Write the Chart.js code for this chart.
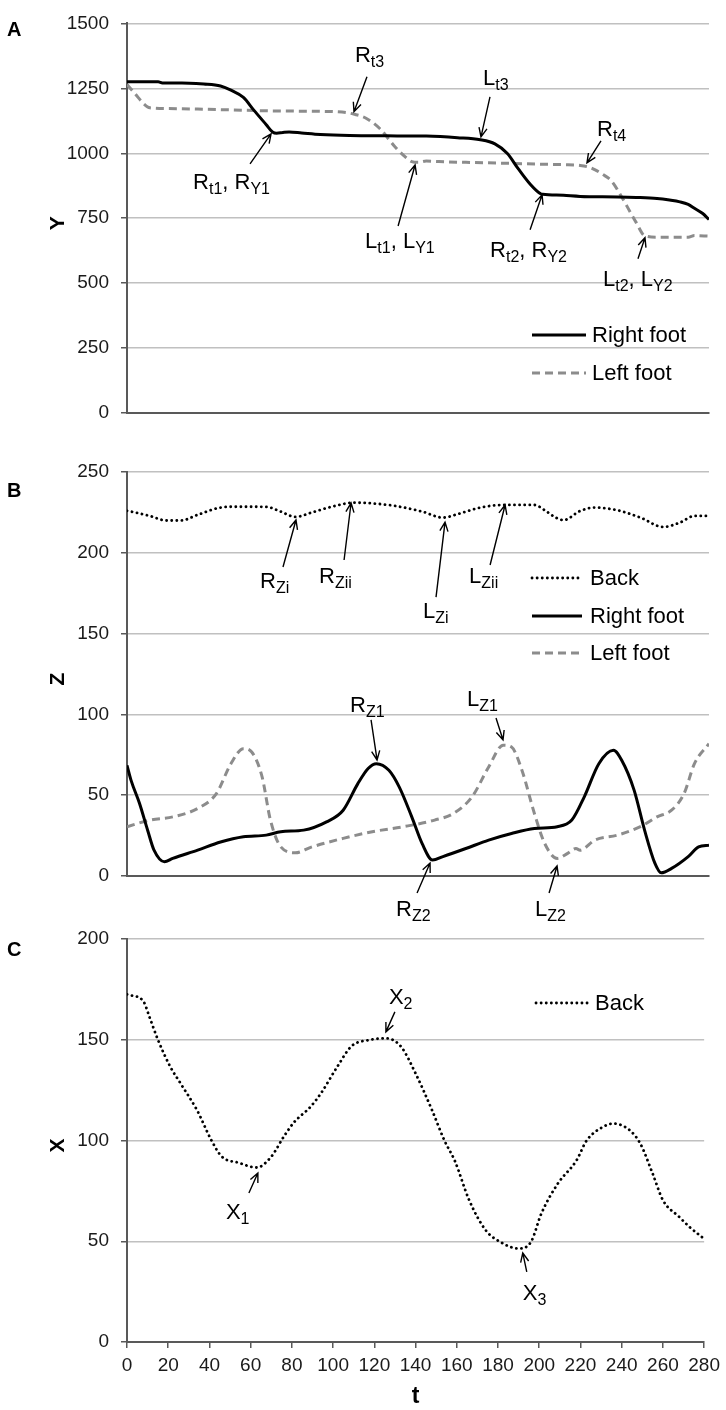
<!DOCTYPE html>
<html>
<head>
<meta charset="utf-8">
<script src="https://cdn.jsdelivr.net/npm/chart.js@4.4.1/dist/chart.umd.min.js"></script>
<style>
  body { margin: 0; background: #fff; width: 726px; height: 1410px; position: relative; overflow: hidden; }
  canvas { position: absolute; left: 0; }
</style>
</head>
<body>
<canvas id="chartA" width="726" height="440" style="top:0"></canvas>
<canvas id="chartB" width="726" height="490" style="top:440px"></canvas>
<canvas id="chartC" width="726" height="510" style="top:900px"></canvas>
<script>
// ---- panel A : Y position of the feet ----
const tA_right = [0, 15, 17, 30, 37, 45, 50, 56, 61, 67, 70, 72, 75, 78, 84, 93, 107, 125, 144, 159, 170, 177, 183, 188, 194, 199, 200, 210, 218, 236, 245, 255, 261, 266, 270, 273, 277, 280];
const yA_right = [1275, 1275, 1271, 1270, 1267, 1259, 1243, 1215, 1166, 1110, 1082, 1077, 1080, 1082, 1078, 1072, 1068, 1067, 1066, 1060, 1052, 1036, 999, 943, 881, 844, 842, 838, 834, 832, 830, 826, 820, 813, 803, 788, 768, 745];
const tA_left = [0, 4, 8, 11, 20, 34, 50, 70, 85, 100, 106, 109, 115, 122, 129, 134, 137, 140, 144, 150, 163, 180, 199, 210, 218, 222, 225, 229, 233, 238, 242, 245, 249, 255, 265, 270, 273, 280];
const yA_left = [1265, 1228, 1191, 1175, 1172, 1170, 1167, 1163, 1162, 1160, 1156, 1151, 1135, 1092, 1024, 985, 968, 965, 970, 968, 965, 962, 958, 956, 953, 947, 937, 918, 894, 832, 775, 733, 683, 677, 677, 677, 683, 681];

// ---- panel B : Z position ----
const tB_back = [0, 2, 11, 19, 26, 34, 45, 52, 60, 67, 74, 81, 89, 100, 109, 117, 129, 142, 152, 159, 170, 181, 196, 201, 206, 210, 218, 225, 236, 247, 258, 266, 273, 280];
const zB_back = [226, 225.5, 222.8, 220, 220, 223.5, 228, 228.5, 228.5, 228.4, 225.5, 222.2, 225, 229, 231, 230.7, 229, 225.5, 221.8, 223.9, 228, 229.6, 229.6, 226.3, 222, 220.2, 225.9, 228, 226.3, 221.8, 216, 218.7, 222.8, 222.8];
const tB_right = [0, 2, 6, 10, 13, 18, 22, 34, 45, 56, 67, 74, 85, 96, 104, 111, 116, 120, 126, 131, 137, 142, 147, 152, 163, 174, 185, 196, 207, 214, 220, 227, 234, 238, 244, 249, 254, 257, 262, 270, 275, 280];
const zB_right = [68.5, 59, 45, 28, 16, 8.8, 10.9, 16, 21, 24.3, 25.3, 27.4, 28.4, 33.5, 40.7, 57, 66.5, 69.5, 65.4, 55, 36.6, 20, 9.9, 12, 17, 22.2, 26.3, 29.4, 30.5, 34.6, 49, 69.5, 77.8, 71.6, 53, 28.4, 7.8, 2, 4.7, 12, 18, 19];
const tB_left = [0, 11, 22, 34, 43, 50, 56, 60, 65, 69, 74, 81, 89, 104, 118, 133, 148, 157, 166, 174, 181, 185, 190, 196, 201, 207, 212, 216, 218, 225, 236, 247, 255, 262, 268, 273, 280];
const zB_left = [30.5, 34.6, 36.6, 41.8, 51, 69.5, 78.8, 76.7, 61.3, 34.6, 18, 14.4, 18, 23.3, 27.4, 30.5, 34.6, 38.7, 49, 67.5, 80.9, 79.8, 65.4, 38.7, 20, 10.9, 14, 17, 16, 22.2, 25.3, 30.5, 36.6, 40.7, 51, 69.5, 81.9];

// ---- panel C : X position of the back ----
const tC_back = [0, 2, 8, 11, 15, 21, 26, 34, 41, 46, 54, 63, 70, 76, 81, 89, 94, 102, 109, 117, 126, 133, 140, 148, 154, 159, 166, 174, 181, 190, 196, 201, 209, 218, 223, 231, 236, 244, 249, 255, 260, 268, 273, 279];
const xC_back = [172.5, 172, 169, 161, 150, 136.6, 128.3, 115, 100, 92, 89, 86.6, 92, 101.8, 109, 116.7, 123.3, 136.6, 146.9, 149.8, 150.7, 146.5, 133.3, 115, 100, 90, 70.4, 55.5, 49.7, 46.4, 49.7, 63.7, 78.6, 90, 100, 106.8, 108.4, 105, 98.5, 83.6, 70.4, 62, 57, 52];

const tTicks = [0, 280, 20];   // min, max, step of t axis

const FONT = '"Liberation Sans", Arial, sans-serif';
const AXIS = '#595959';
const GRID = '#c0c0c0';

const pts = (ts, vs) => ts.map((t, i) => ({ x: t, y: vs[i] }));

const styles = {
  right: { borderColor: '#000', borderWidth: 3, borderDash: [], borderCapStyle: 'butt' },
  left: { borderColor: '#8c8c8c', borderWidth: 3, borderDash: [8, 5], borderCapStyle: 'butt' },
  back: { borderColor: '#000', borderWidth: 2.8, borderDash: [0.1, 5], borderCapStyle: 'round' }
};

// text like "R_{t1}, R_{Y1}" with subscripts
function drawRich(ctx, text, x, y) {
  const parts = text.split(/(_\{[^}]*\})/).filter(s => s.length);
  let cx = x;
  ctx.textAlign = 'left';
  ctx.textBaseline = 'alphabetic';
  ctx.fillStyle = '#000';
  parts.forEach(p => {
    if (p.startsWith('_{')) {
      const s = p.slice(2, -1);
      ctx.font = '16px ' + FONT;
      ctx.fillText(s, cx, y + 5);
      cx += ctx.measureText(s).width;
    } else {
      ctx.font = '22px ' + FONT;
      ctx.fillText(p, cx, y);
      cx += ctx.measureText(p).width;
    }
  });
}

const notesPlugin = {
  id: 'notes',
  afterDatasetsDraw(chart, args, o) {
    const { ctx } = chart;
    const xs = chart.scales.x, ys = chart.scales.y;
    ctx.save();
    // arrows with labels
    (o.arrows || []).forEach(a => {
      const tx = xs.getPixelForValue(a.at[0]);
      const ty = ys.getPixelForValue(a.at[1]);
      const fx = tx + a.tail[0], fy = ty + a.tail[1];
      ctx.strokeStyle = '#000';
      ctx.lineWidth = 1.4;
      ctx.setLineDash([]);
      ctx.beginPath();
      ctx.moveTo(fx, fy);
      ctx.lineTo(tx, ty);
      const ang = Math.atan2(ty - fy, tx - fx);
      const hl = 10;
      ctx.moveTo(tx - hl * Math.cos(ang - 0.42), ty - hl * Math.sin(ang - 0.42));
      ctx.lineTo(tx, ty);
      ctx.lineTo(tx - hl * Math.cos(ang + 0.42), ty - hl * Math.sin(ang + 0.42));
      ctx.stroke();
      drawRich(ctx, a.text, tx + a.label[0], ty + a.label[1]);
    });
    // legend
    const lg = o.legend;
    if (lg) {
      chart.data.datasets.forEach((ds, i) => {
        const y = lg.rows[i];
        ctx.strokeStyle = ds.borderColor;
        ctx.lineWidth = ds.borderWidth;
        ctx.setLineDash(ds.borderDash || []);
        ctx.lineCap = ds.borderCapStyle || 'butt';
        ctx.beginPath();
        ctx.moveTo(lg.x0, y);
        ctx.lineTo(lg.x1, y);
        ctx.stroke();
        ctx.setLineDash([]);
        ctx.lineCap = 'butt';
        ctx.fillStyle = '#000';
        ctx.font = '22px ' + FONT;
        ctx.textAlign = 'left';
        ctx.textBaseline = 'middle';
        ctx.fillText(ds.label, lg.tx, y + 1);
      });
    }
    // panel letter and rotated axis title
    ctx.fillStyle = '#000';
    ctx.font = 'bold 20px ' + FONT;
    ctx.textAlign = 'left';
    ctx.textBaseline = 'middle';
    ctx.fillText(o.letter, 7, o.letterY);
    const ca = chart.chartArea;
    ctx.translate(o.titleX, (ca.top + ca.bottom) / 2 + 5);
    ctx.rotate(-Math.PI / 2);
    ctx.font = 'bold 21px ' + FONT;
    ctx.textAlign = 'center';
    ctx.fillText(o.title, 0, 0);
    ctx.restore();
  }
};

function panel(id, cfg) {
  const canvas = document.getElementById(id);
  const H = canvas.height;
  return new Chart(canvas, {
    type: 'line',
    data: {
      datasets: cfg.series.map(s => Object.assign({
        label: s.label,
        data: s.data,
        pointRadius: 0,
        fill: false,
        cubicInterpolationMode: 'monotone'
      }, styles[s.style]))
    },
    options: {
      responsive: false,
      animation: false,
      events: [],
      layout: { padding: { top: cfg.top, right: 17, left: 0, bottom: 0 } },
      plugins: {
        legend: { display: false },
        tooltip: { enabled: false },
        notes: cfg.notes
      },
      scales: {
        x: {
          type: 'linear',
          min: tTicks[0], max: tTicks[1],
          afterFit: sc => { sc.height = H - cfg.bottom; },
          ticks: {
            display: cfg.showT, stepSize: tTicks[2], padding: 6,
            color: '#1a1a1a', font: { family: FONT, size: 19 }
          },
          grid: { display: cfg.showT, drawOnChartArea: false, tickLength: 6, tickColor: AXIS, lineWidth: 1.5 },
          border: { display: true, color: AXIS, width: 2 },
          title: {
            display: cfg.showT, text: 't', color: '#000',
            font: { family: FONT, size: 23, weight: 'bold' }, padding: { top: 0, bottom: 0 }
          }
        },
        y: {
          min: cfg.yMin, max: cfg.yMax,
          afterFit: sc => { sc.width = 127; },
          ticks: {
            stepSize: cfg.yStep, padding: 12,
            color: '#1a1a1a', font: { family: FONT, size: 19 },
            callback: v => String(v)
          },
          grid: { color: GRID, lineWidth: 1.5, tickLength: 6, tickColor: AXIS },
          border: { display: true, color: AXIS, width: 2 }
        }
      }
    },
    plugins: [notesPlugin]
  });
}

panel('chartA', {
  top: 11, bottom: 413,
  yMin: 0, yMax: 1500, yStep: 250,
  showT: false,
  series: [
    { label: 'Right foot', style: 'right', data: pts(tA_right, yA_right) },
    { label: 'Left foot', style: 'left', data: pts(tA_left, yA_left) }
  ],
  notes: {
    letter: 'A', letterY: 30, title: 'Y', titleX: 58,
    legend: { x0: 532, x1: 586, tx: 592, rows: [335, 373] },
    arrows: [
      { text: 'R_{t1}, R_{Y1}', at: [69.3, 1075], tail: [-21, 30], label: [-78, 55] },
      { text: 'R_{t3}', at: [109.2, 1160], tail: [13, -35], label: [1, -50] },
      { text: 'L_{t3}', at: [170.3, 1063], tail: [9, -40], label: [2, -52] },
      { text: 'R_{t4}', at: [221.3, 963], tail: [14, -22], label: [10, -27] },
      { text: 'L_{t1}, L_{Y1}', at: [138.6, 955], tail: [-17, 61], label: [-50, 83] },
      { text: 'R_{t2}, R_{Y2}', at: [199.7, 840], tail: [-12, 35], label: [-52, 62] },
      { text: 'L_{t2}, L_{Y2}', at: [249.2, 675], tail: [-7, 21], label: [-42, 48] }
    ]
  }
});

panel('chartB', {
  top: 32, bottom: 436,
  yMin: 0, yMax: 250, yStep: 50,
  showT: false,
  series: [
    { label: 'Back', style: 'back', data: pts(tB_back, zB_back) },
    { label: 'Right foot', style: 'right', data: pts(tB_right, zB_right) },
    { label: 'Left foot', style: 'left', data: pts(tB_left, zB_left) }
  ],
  notes: {
    letter: 'B', letterY: 51, title: 'Z', titleX: 58,
    legend: { x0: 532, x1: 582, tx: 590, rows: [138, 176, 213] },
    arrows: [
      { text: 'R_{Zi}', at: [81.3, 220.3], tail: [-13, 47], label: [-36, 68] },
      { text: 'R_{Zii}', at: [107.8, 230.8], tail: [-7, 57], label: [-32, 80] },
      { text: 'L_{Zi}', at: [153, 219], tail: [-9, 75], label: [-22, 96] },
      { text: 'L_{Zii}', at: [181.9, 229.6], tail: [-15, 60], label: [-36, 78] },
      { text: 'R_{Z1}', at: [120.3, 71.8], tail: [-6, -40], label: [-27, -48] },
      { text: 'L_{Z1}', at: [180.9, 84.2], tail: [-7, -22], label: [-36, -34] },
      { text: 'R_{Z2}', at: [145.8, 8], tail: [-13, 30], label: [-34, 53] },
      { text: 'L_{Z2}', at: [206.9, 6.2], tail: [-8, 27], label: [-22, 50] }
    ]
  }
});

panel('chartC', {
  top: 39, bottom: 442,
  yMin: 0, yMax: 200, yStep: 50,
  showT: true,
  series: [
    { label: 'Back', style: 'back', data: pts(tC_back, xC_back) }
  ],
  notes: {
    letter: 'C', letterY: 50, title: 'X', titleX: 58,
    legend: { x0: 536, x1: 588, tx: 595, rows: [103] },
    arrows: [
      { text: 'X_{1}', at: [63.5, 83.9], tail: [-9, 20], label: [-32, 46] },
      { text: 'X_{2}', at: [125.6, 153.9], tail: [9, -20], label: [3, -28] },
      { text: 'X_{3}', at: [192, 44.2], tail: [4, 19], label: [0, 47] }
    ]
  }
});
</script>
</body>
</html>
